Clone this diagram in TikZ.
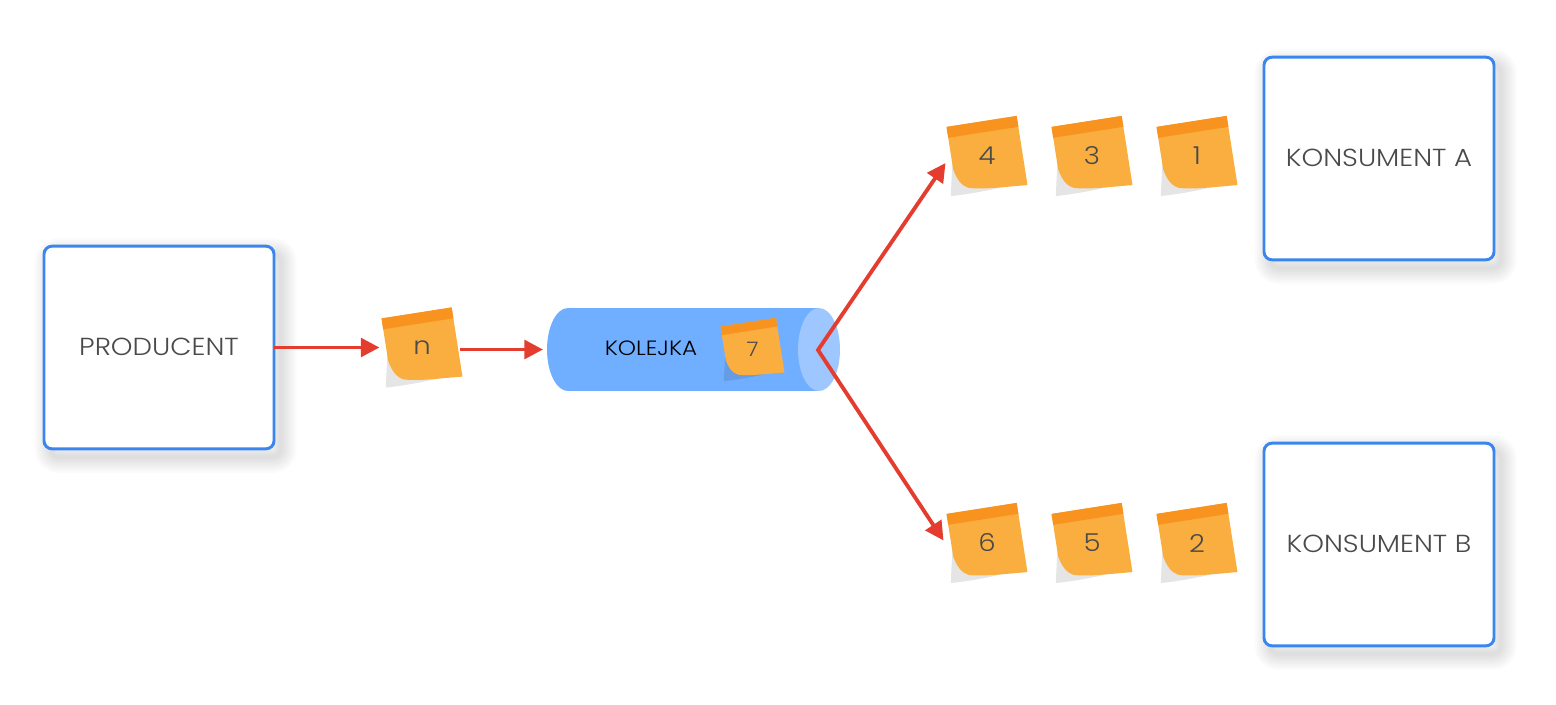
\documentclass[tikz,border=0pt]{standalone}
\usepackage{fontspec}
\setmainfont[FakeStretch=1.118]{Poppins Light}
\usetikzlibrary{arrows.meta}
\definecolor{boxblue}{HTML}{3B86EE}
\definecolor{linkred}{HTML}{E43D30}
\definecolor{notebody}{HTML}{F9AE3F}
\definecolor{noteband}{HTML}{F7931E}
\definecolor{pipebody}{HTML}{70AEFF}
\definecolor{pipeend}{HTML}{9FC7FF}
\definecolor{labelgray}{HTML}{4A4A4A}
\tikzset{shadowlayer/.style={preaction={draw=black, draw opacity=.014, line width=#1, transform canvas={shift={(5pt,-6pt)}}}}}
\tikzstyle{box} = [rectangle, draw=boxblue, line width=2.2pt, fill=white, rounded corners=6pt, minimum width=172.5pt, minimum height=152pt, inner sep=0pt, outer sep=0pt, text=labelgray, text depth=1.5pt, font=\fontsize{18.5}{20}\selectfont, shadowlayer=3pt, shadowlayer=6pt, shadowlayer=9pt, shadowlayer=12pt, shadowlayer=15pt, shadowlayer=18pt, shadowlayer=21pt, shadowlayer=24pt]
\tikzstyle{pipe} = [rectangle, minimum width=219.75pt, minimum height=62.25pt, inner sep=0pt, outer sep=0pt]
\tikzstyle{notelabel} = [rectangle, minimum width=57pt, minimum height=52pt, inner sep=0pt, outer sep=0pt, text=labelgray, font=\fontsize{#1}{20}\selectfont]
\tikzstyle{link} = [draw=linkred, line width=2.9pt, miter limit=10, >={Triangle[length=14pt, width=14pt]}]
% sticky note: name, x, y, text, scale, font size
\newcommand{\stickynote}[6]{
	\begin{scope}[shift={(#2,#3)}, rotate=8.9, scale=#5]
		\fill[black, opacity=.1] (-35,0) -- (-42,34) .. controls (-20,35) and (0,34) .. (12,33) -- cycle;
		\fill[notebody] (-35.5,-35) -- (35.5,-35) -- (35.5,35) .. controls (10,33) and (-5,33) .. (-22,29) .. controls (-30,26) and (-33.5,18) .. (-35.5,8) -- cycle;
		\fill[noteband] (-35.5,-35) rectangle (35.5,-24);
	\end{scope}
	\node[notelabel=#6] (#1) at (#2,#3) {#4};
}
\begin{document}
\begin{tikzpicture}[x=.75pt, y=-.75pt]
	\useasboundingbox (0,0) rectangle (1556,704);
	\node [box] (producent) at (159,347.5) {PRODUCENT};
	\node [box] (konsumentA) at (1379,158.5) {KONSUMENT A};
	\node [box] (konsumentB) at (1379,544.5) {KONSUMENT B};
	\fill [pipebody] (568,308) rectangle (819,391);
	\fill [pipebody] (568,349.5) ellipse [x radius=21, y radius=41.5];
	\fill [pipeend] (819,349.5) ellipse [x radius=21, y radius=41.5];
	\node [pipe] (kolejka) at (693.5,349.5) {};
	\node [text=black, font=\fontsize{15.5}{20}\selectfont] (kolejkaLabel) at (651,348) {KOLEJKA};
	\stickynote{noteN}{422}{347.5}{n}{1}{18.5}
	\stickynote{noteSeven}{752.5}{349.5}{7}{.79}{15}
	\foreach \name/\x/\y/\val in {noteFour/987/156/4, noteThree/1092/156/3, noteOne/1197/156/1, noteSix/987/543/6, noteFive/1092/543/5, noteTwo/1197/543/2}
		{\stickynote{\name}{\x}{\y}{\val}{1}{18.5}}
	\coordinate (fork) at (818,350);
	\path [link, ->] (producent.east) -- ([xshift=-3.4pt]noteN.west);
	\path [link, ->] ([yshift=-1.5pt]noteN.east) -- ([xshift=-3pt]kolejka.west);
	\path [link, <->] ([shift={(-3.5,7)}]noteFour.west) -- (fork) -- ([shift={(-5.5,-2.5)}]noteSix.west);
\end{tikzpicture}
\end{document}
